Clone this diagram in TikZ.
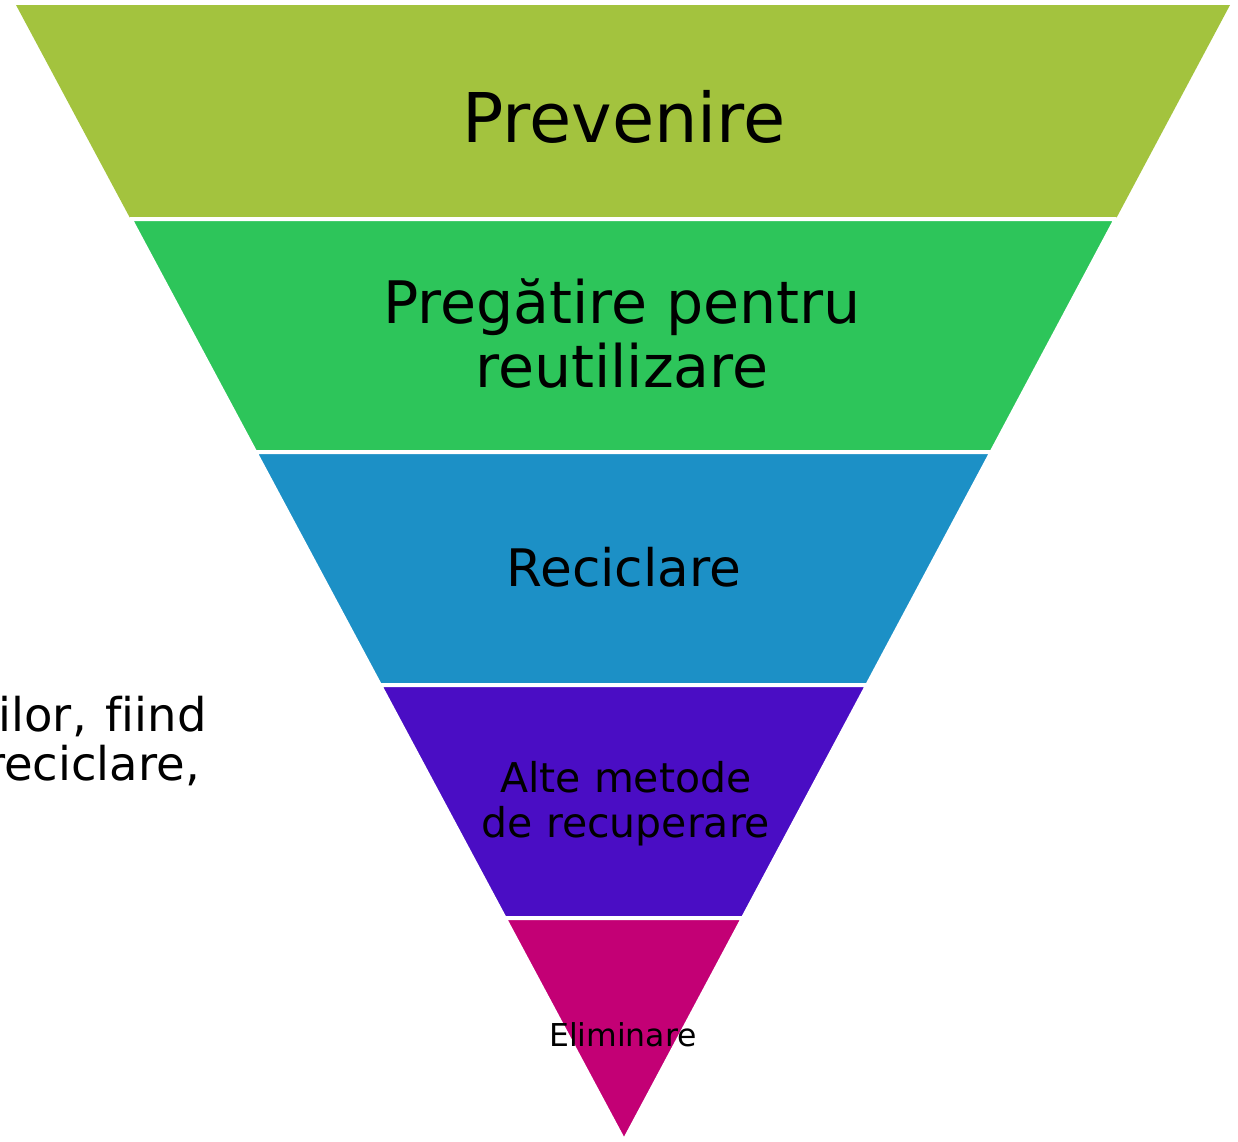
\documentclass[tikz,border=0pt]{standalone}
\usepackage{fontspec}
\setmainfont[Ligatures=NoCommon]{DejaVu Sans}
\definecolor{cPrev}{HTML}{A3C33E}
\definecolor{cPreg}{HTML}{2DC55A}
\definecolor{cReci}{HTML}{1C90C6}
\definecolor{cAlte}{HTML}{4A0DC4}
\definecolor{cElim}{HTML}{C30075}
\tikzset{
  band/.style={draw=white, line width=4pt, line join=round},
  lbl/.style={inner sep=0pt, text=black, align=center},
  para/.style={inner sep=0pt, anchor=base east, font={\fontsize{46.5}{49}\selectfont}},
}
\begin{document}
\begin{tikzpicture}[x=1pt,y=-1pt]
\useasboundingbox (0,0) rectangle (1238,1141);
\clip (0,0) rectangle (1238,1141);
% bands
\fill[cPrev] (16,5) -- (1230,5) -- (1108.9,232) -- (137.5,232) -- cycle;
\path[band, fill=cPreg] (130.5,219) -- (1115.8,219) -- (991.6,452) -- (255.2,452) -- cycle;
\path[band, fill=cReci] (255.2,452) -- (991.6,452) -- (867.3,685) -- (379.9,685) -- cycle;
\path[band, fill=cAlte] (379.9,685) -- (867.3,685) -- (743.0,918) -- (504.6,918) -- cycle;
\path[band, fill=cElim] (504.6,918) -- (743.0,918) -- (624,1141) -- cycle;
% labels
\node[lbl, anchor=base, font={\fontsize{68.6}{70}\selectfont}] (prev) at (624,142) {Prevenire};
\node[lbl, anchor=base, font={\fontsize{58.6}{63.5}\selectfont}] (preg) at (622,387) {Pregătire pentru\\reutilizare};
\node[lbl, anchor=base, font={\fontsize{51.7}{55}\selectfont}] (reci) at (624,586) {Reciclare};
\node[lbl, anchor=base, font={\fontsize{41}{44.7}\selectfont}] (alte) at (626,837) {Alte metode\\de recuperare};
\node[lbl, anchor=base, font={\fontsize{31.5}{33}\selectfont}] (elim) at (623,1046) {Eliminare};
% clipped paragraph on the left
\node[para] (par1) at (207,731) {ilor,\hspace{4pt} fiind};
\node[para] (par2) at (200,780) {reciclare,};
\end{tikzpicture}
\end{document}
